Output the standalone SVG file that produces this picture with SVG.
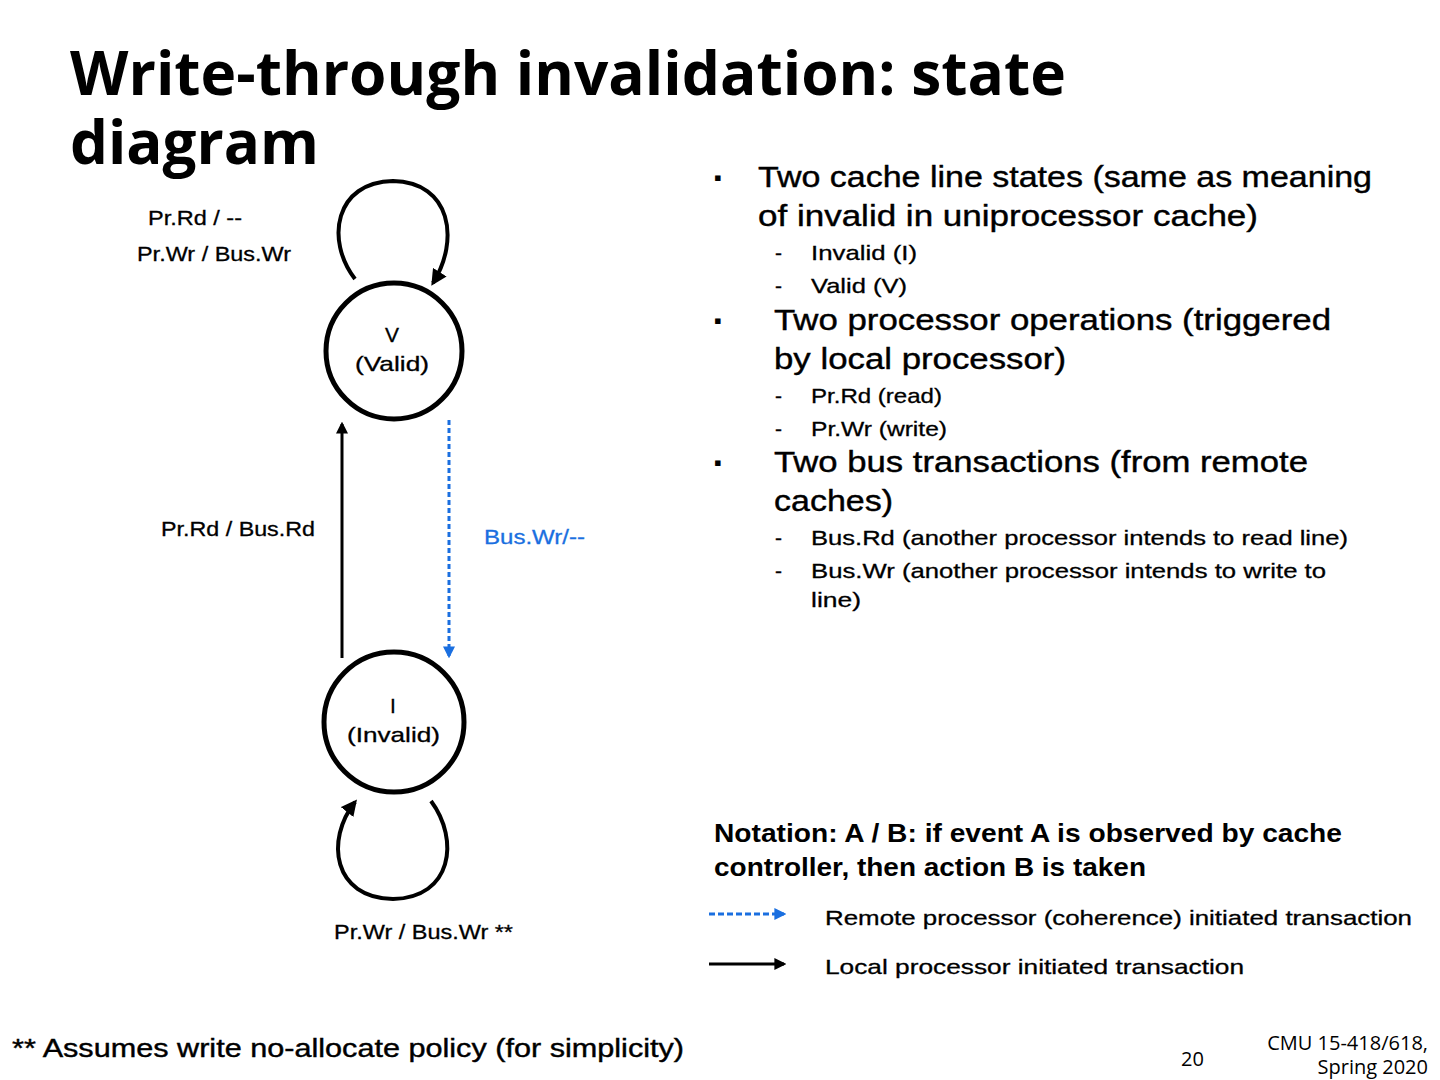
<svg xmlns="http://www.w3.org/2000/svg" width="1440" height="1080" viewBox="0 0 1440 1080">
<defs>
<style>
text{font-family:"Liberation Sans",Arial,sans-serif;fill:#000}
.t{font-family:"Open Sans","Noto Sans",sans-serif;font-weight:bold;font-size:60px}
.b{font-size:29px;stroke:#000;stroke-width:0.4}
.s{font-size:22px}
.l{font-size:21px;stroke:#000;stroke-width:0.3}
.bl{fill:#1a6fe0;stroke:#1a6fe0}
.st{fill:none;stroke:#000;stroke-width:5}
.f{font-family:"Open Sans",sans-serif;font-size:20px}
</style>
<marker id="ah" viewBox="0 0 10 10" refX="8" refY="5" markerWidth="4" markerHeight="4" orient="auto"><path d="M0,0L10,5L0,10z" fill="#000"/></marker>
<marker id="ahb" viewBox="0 0 10 10" refX="8" refY="5" markerWidth="4" markerHeight="4" orient="auto"><path d="M0,0L10,5L0,10z" fill="#1a6fe0"/></marker>
</defs>
<rect width="1440" height="1080" fill="#fff"/>
<text class="t" x="70" y="95" textLength="996" lengthAdjust="spacingAndGlyphs">Write-through invalidation: state</text>
<text class="t" x="70" y="164">diagram</text>
<g id="nodeV"><circle cx="394" cy="351" r="68" class="st"/><text class="l" x="392" y="342" text-anchor="middle">V</text><text class="l" x="355" y="371" textLength="74" lengthAdjust="spacingAndGlyphs">(Valid)</text></g>
<g id="nodeI"><circle cx="394" cy="722" r="70" class="st"/><text class="l" x="393" y="713" text-anchor="middle">I</text><text class="l" x="347" y="742" textLength="93" lengthAdjust="spacingAndGlyphs">(Invalid)</text></g>
<g id="connectors">
<path d="M355,279 C325,240 335,182 393,181 C451,182 460,240 433,283" stroke="#000" stroke-width="4" fill="none" marker-end="url(#ah)"/>
<path d="M431,801 C460,840 452,898 393,899 C333,898 325,840 355,802" stroke="#000" stroke-width="4" fill="none" marker-end="url(#ah)"/>
<line x1="342" y1="658" x2="342" y2="424" stroke="#000" stroke-width="3" marker-end="url(#ah)"/>
<line x1="449" y1="420" x2="449" y2="656" stroke="#1a6fe0" stroke-width="3" stroke-dasharray="5,3" marker-end="url(#ahb)"/>
<line x1="709" y1="914" x2="784" y2="914" stroke="#1a6fe0" stroke-width="3" stroke-dasharray="6,3" marker-end="url(#ahb)"/>
<line x1="709" y1="964" x2="784" y2="964" stroke="#000" stroke-width="3" marker-end="url(#ah)"/>
</g>
<text class="l" x="148" y="225" textLength="94" lengthAdjust="spacingAndGlyphs">Pr.Rd / --</text>
<text class="l" x="137" y="261" textLength="154" lengthAdjust="spacingAndGlyphs">Pr.Wr / Bus.Wr</text>
<text class="l" x="161" y="536" textLength="154" lengthAdjust="spacingAndGlyphs">Pr.Rd / Bus.Rd</text>
<text class="l bl" x="484" y="544" textLength="101" lengthAdjust="spacingAndGlyphs">Bus.Wr/--</text>
<text class="l" x="334" y="939" textLength="179" lengthAdjust="spacingAndGlyphs">Pr.Wr / Bus.Wr **</text>
<text class="s" x="714" y="185">▪</text>
<text class="b" x="758" y="187" textLength="614" lengthAdjust="spacingAndGlyphs">Two cache line states (same as meaning</text>
<text class="b" x="758" y="226" textLength="500" lengthAdjust="spacingAndGlyphs">of invalid in uniprocessor cache)</text>
<text class="l" x="775" y="260">-</text><text class="l" x="811" y="260" textLength="106" lengthAdjust="spacingAndGlyphs">Invalid (I)</text>
<text class="l" x="775" y="293">-</text><text class="l" x="811" y="293" textLength="96" lengthAdjust="spacingAndGlyphs">Valid (V)</text>
<text class="s" x="714" y="328">▪</text>
<text class="b" x="774" y="330" textLength="557" lengthAdjust="spacingAndGlyphs">Two processor operations (triggered</text>
<text class="b" x="774" y="369" textLength="292" lengthAdjust="spacingAndGlyphs">by local processor)</text>
<text class="l" x="775" y="403">-</text><text class="l" x="811" y="403" textLength="131" lengthAdjust="spacingAndGlyphs">Pr.Rd (read)</text>
<text class="l" x="775" y="436">-</text><text class="l" x="811" y="436" textLength="136" lengthAdjust="spacingAndGlyphs">Pr.Wr (write)</text>
<text class="s" x="714" y="470">▪</text>
<text class="b" x="774" y="472" textLength="534" lengthAdjust="spacingAndGlyphs">Two bus transactions (from remote</text>
<text class="b" x="774" y="511" textLength="119" lengthAdjust="spacingAndGlyphs">caches)</text>
<text class="l" x="775" y="545">-</text><text class="l" x="811" y="545" textLength="537" lengthAdjust="spacingAndGlyphs">Bus.Rd (another processor intends to read line)</text>
<text class="l" x="775" y="578">-</text><text class="l" x="811" y="578" textLength="515" lengthAdjust="spacingAndGlyphs">Bus.Wr (another processor intends to write to</text>
<text class="l" x="811" y="607" textLength="50" lengthAdjust="spacingAndGlyphs">line)</text>
<text x="714" y="842" font-size="25" font-weight="bold" textLength="628" lengthAdjust="spacingAndGlyphs">Notation: A / B: if event A is observed by cache</text>
<text x="714" y="876" font-size="25" font-weight="bold" textLength="432" lengthAdjust="spacingAndGlyphs">controller, then action B is taken</text>
<text class="l" x="825" y="925" textLength="587" lengthAdjust="spacingAndGlyphs">Remote processor (coherence) initiated transaction</text>
<text class="l" x="825" y="974" textLength="419" lengthAdjust="spacingAndGlyphs">Local processor initiated transaction</text>
<text x="12" y="1057" font-size="25" stroke="#000" stroke-width="0.4" textLength="672" lengthAdjust="spacingAndGlyphs">** Assumes write no-allocate policy (for simplicity)</text>
<text class="f" x="1181" y="1066">20</text>
<text class="f" x="1428" y="1050" text-anchor="end">CMU 15-418/618,</text>
<text class="f" x="1428" y="1074" text-anchor="end">Spring 2020</text>
</svg>
